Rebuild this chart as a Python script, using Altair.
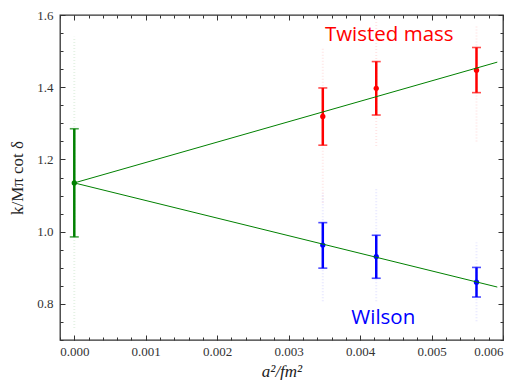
import altair as alt
import pandas as pd

# ---- data ----
a2 = [0.003478, 0.004226, 0.005629]
tm_y = [1.319, 1.397, 1.447]
tm_lo = [1.2395, 1.323, 1.385]
tm_hi = [1.398, 1.471, 1.510]
w_y = [0.963, 0.931, 0.860]
w_lo = [0.899, 0.871, 0.819]
w_hi = [1.025, 0.990, 0.901]
cont_x = [0.0]
cont_y = [1.135]
cont_lo = [0.9855]
cont_hi = [1.285]
fit_x = [0.0, 0.00592]
fit_tm = [1.135, 1.4695]
fit_w = [1.135, 0.8466]
# spread of the faint bootstrap samples
boot_tm_lo = [1.08, 1.237, 1.25]
boot_tm_hi = [1.51, 1.588, 1.57]
boot_w_lo = [0.807, 0.807, 0.752]
boot_w_hi = [1.108, 1.122, 0.97]
boot_c_lo = [0.733]
boot_c_hi = [1.54]
x_major = [0.0, 0.001, 0.002, 0.003, 0.004, 0.005, 0.006]
x_minor = [round(i * 0.0002, 4) for i in range(-1, 31)]
y_major = [0.8, 1.0, 1.2, 1.4, 1.6]
y_minor = [round(0.7 + i * 0.05, 2) for i in range(0, 19)]
labels = ["Twisted mass", "Wilson"]
label_x = [0.004408, 0.004324]
label_y = [1.528, 0.744]

XD = [-0.0002, 0.006]
YD = [0.7, 1.6]
W, H = 443, 325
RED, BLUE, GREEN = "#ff0000", "#0000ff", "#008000"
FONT = "Liberation Serif"

xs = alt.Scale(domain=XD, nice=False, zero=False)
ys = alt.Scale(domain=YD, nice=False, zero=False)

tm = pd.DataFrame({"x": a2, "y": tm_y, "lo": tm_lo, "hi": tm_hi, "blo": boot_tm_lo, "bhi": boot_tm_hi})
wd = pd.DataFrame({"x": a2, "y": w_y, "lo": w_lo, "hi": w_hi, "blo": boot_w_lo, "bhi": boot_w_hi})
cd = pd.DataFrame({"x": cont_x, "y": cont_y, "lo": cont_lo, "hi": cont_hi, "blo": boot_c_lo, "bhi": boot_c_hi})
fit = pd.DataFrame({"x": fit_x + fit_x, "y": fit_tm + fit_w, "s": ["tm", "tm", "w", "w"]})
lab = pd.DataFrame({"t": labels, "x": label_x, "y": label_y, "c": [RED, BLUE]})


def X(field="x", **kw):
    return alt.X(f"{field}:Q", scale=xs, axis=None, **kw)


def Y(field="y", **kw):
    return alt.Y(f"{field}:Q", scale=ys, axis=None, **kw)


def series(df, color):
    boot = alt.Chart(df).mark_rule(color=color, opacity=0.1, strokeWidth=2, strokeDash=[1, 2]).encode(
        x=X(), y=Y("blo"), y2="bhi")
    bar = alt.Chart(df).mark_rule(color=color, strokeWidth=2.5).encode(x=X(), y=Y("lo"), y2="hi")
    cap_lo = alt.Chart(df).mark_tick(color=color, orient="horizontal", size=9, thickness=1.6).encode(x=X(), y=Y("lo"))
    cap_hi = alt.Chart(df).mark_tick(color=color, orient="horizontal", size=9, thickness=1.6).encode(x=X(), y=Y("hi"))
    pt = alt.Chart(df).mark_circle(color=color, size=28, opacity=1).encode(x=X(), y=Y())
    return [boot, bar, cap_lo, cap_hi, pt]


lines = alt.Chart(fit).mark_line(color=GREEN, strokeWidth=1).encode(x=X(), y=Y(), detail="s:N")

texts = alt.Chart(lab).mark_text(font="Open Sans", fontSize=20.5, align="center", baseline="alphabetic").encode(
    x=X(), y=Y(), text="t:N", color=alt.Color("c:N", scale=None))

# axis layers (invisible marks that only carry axes)
adf = pd.DataFrame({"x": [0.0], "y": [1.0]})


def xaxis_layer(axis):
    return alt.Chart(adf).mark_point(opacity=0).encode(
        x=alt.X("x:Q", scale=xs, axis=axis), y=alt.Y("y:Q", scale=ys, axis=None))


def yaxis_layer(axis):
    return alt.Chart(adf).mark_point(opacity=0).encode(
        x=alt.X("x:Q", scale=xs, axis=None), y=alt.Y("y:Q", scale=ys, axis=axis))


tick_common = dict(labels=False, domain=False, grid=False, title=None, tickColor="#333", tickWidth=1)

axes = [
    xaxis_layer(alt.Axis(orient="bottom", values=x_major, format=".3f", ticks=False, domain=False, grid=False,
                         labelPadding=5, title="a²/fm²", titleFontStyle="italic", titlePadding=5)),
    xaxis_layer(alt.Axis(orient="top", offset=-H, values=x_major, tickSize=5, **tick_common)),
    xaxis_layer(alt.Axis(orient="top", offset=-H, values=x_minor, tickSize=3, **tick_common)),
    xaxis_layer(alt.Axis(orient="bottom", offset=-H, values=x_major, tickSize=5, **tick_common)),
    xaxis_layer(alt.Axis(orient="bottom", offset=-H, values=x_minor, tickSize=3, **tick_common)),
    yaxis_layer(alt.Axis(orient="left", values=y_major, format=".1f", ticks=False, domain=False, grid=False,
                         labelPadding=7, title="k/Mπ cot δ", titlePadding=10)),
    yaxis_layer(alt.Axis(orient="right", offset=-W, values=y_major, tickSize=5, **tick_common)),
    yaxis_layer(alt.Axis(orient="right", offset=-W, values=y_minor, tickSize=3, **tick_common)),
    yaxis_layer(alt.Axis(orient="left", offset=-W, values=y_major, tickSize=5, **tick_common)),
    yaxis_layer(alt.Axis(orient="left", offset=-W, values=y_minor, tickSize=3, **tick_common)),
]

layers = series(tm, RED) + series(wd, BLUE) + series(cd, GREEN) + [lines, texts] + axes

chart = alt.layer(*layers).resolve_axis(x="independent", y="independent").properties(
    width=W, height=H,
    autosize=alt.AutoSizeParams(type="none"),
    padding={"left": 52, "top": 7, "right": 10, "bottom": 40},
).configure_view(stroke="#333", strokeWidth=1.3).configure_axis(
    labelFont=FONT, labelFontSize=13, labelColor="#333",
    titleFont=FONT, titleFontSize=17, titleFontWeight="normal", titleColor="#222",
)

chart.save("out.html", embed_options={"renderer": "svg", "actions": False})
